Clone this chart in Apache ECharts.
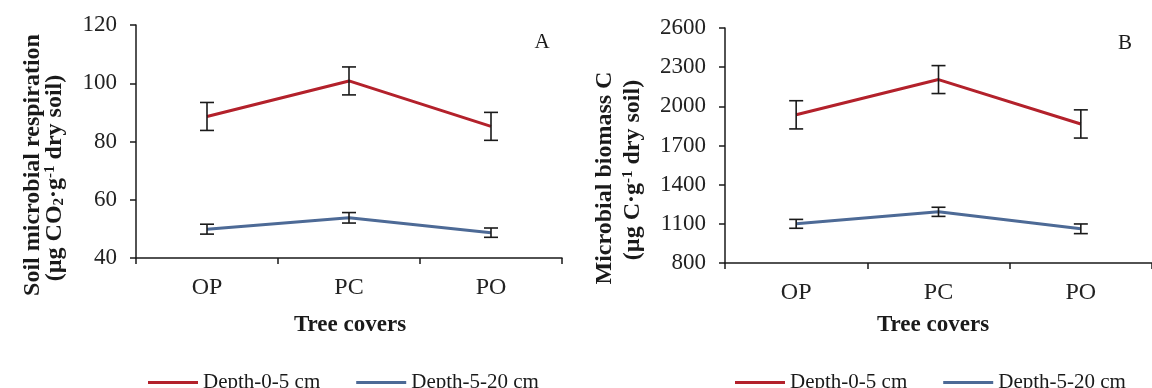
<!DOCTYPE html>
<html>
<head>
<meta charset="utf-8">
<script src="https://cdn.jsdelivr.net/npm/echarts@6/dist/echarts.min.js"></script>
<style>
html, body { margin: 0; padding: 0; background: #fff; }
#main { width: 1152px; height: 388px; }
</style>
</head>
<body>
<div id="main"></div>
<script>
// tree covers on the x axis
var categories = ['OP', 'PC', 'PO'];
var seriesNames = ['Depth-0-5 cm', 'Depth-5-20 cm'];

// A: soil microbial respiration (mean, +/- error)
var respShallow = [88.6, 100.8, 85.2];
var respShallowErr = [4.8, 4.8, 4.8];
var respDeep = [49.9, 53.8, 48.7];
var respDeepErr = [1.7, 1.8, 1.6];
var respTicks = [40, 60, 80, 100, 120];

// B: microbial biomass C
var mbcShallow = [1935, 2205, 1865];
var mbcShallowErr = [108, 107, 108];
var mbcDeep = [1100, 1192, 1062];
var mbcDeepErr = [34, 35, 37];
var mbcTicks = [800, 1100, 1400, 1700, 2000, 2300, 2600];

var serif = '"Liberation Serif", "Times New Roman", serif';
var red = '#b3212b';
var blue = '#4d6a96';
var ink = '#1a1a1a';

function errData(vals, errs) {
    return vals.map(function(v, i) {
        return [i, v - errs[i], v + errs[i]];
    });
}

// whiskers with caps
function renderErr(params, api) {
    var lo = api.coord([api.value(0), api.value(1)]);
    var hi = api.coord([api.value(0), api.value(2)]);
    var w = 7;
    var st = { stroke: ink, lineWidth: 1.6 };
    return {
        type: 'group',
        children: [
            { type: 'line', shape: { x1: hi[0], y1: hi[1], x2: lo[0], y2: lo[1] }, style: st },
            { type: 'line', shape: { x1: hi[0] - w, y1: hi[1], x2: hi[0] + w, y2: hi[1] }, style: st },
            { type: 'line', shape: { x1: lo[0] - w, y1: lo[1], x2: lo[0] + w, y2: lo[1] }, style: st }
        ]
    };
}

function xAxisCfg(gi) {
    return {
        type: 'category',
        gridIndex: gi,
        data: categories,
        boundaryGap: true,
        axisLine: { lineStyle: { color: ink, width: 1.5 } },
        axisTick: { show: true, length: 6, inside: false, lineStyle: { color: ink, width: 1.5 } },
        axisLabel: { margin: 18, color: '#222', fontFamily: serif, fontSize: 24 }
    };
}

function yAxisCfg(gi, ticks) {
    return {
        type: 'value',
        gridIndex: gi,
        min: ticks[0],
        max: ticks[ticks.length - 1],
        splitLine: { show: false },
        axisLine: { show: true, lineStyle: { color: ink, width: 1.5 } },
        axisTick: { show: true, length: 6, customValues: ticks, lineStyle: { color: ink, width: 1.5 } },
        axisLabel: {
            margin: 19, color: '#222', fontFamily: serif, fontSize: 23, customValues: ticks,
            formatter: function(v) { return String(v); }
        }
    };
}

function lineSeries(name, xi, vals, color) {
    return {
        name: name,
        type: 'line',
        xAxisIndex: xi,
        yAxisIndex: xi,
        data: vals,
        symbol: 'none',
        lineStyle: { color: color, width: 3 },
        itemStyle: { color: color },
        z: 3
    };
}

function errSeries(xi, vals, errs) {
    return {
        type: 'custom',
        xAxisIndex: xi,
        yAxisIndex: xi,
        data: errData(vals, errs),
        encode: { x: 0, y: [1, 2] },
        renderItem: renderErr,
        z: 4
    };
}

function vText(x, y, text) {
    return {
        type: 'text',
        x: x,
        y: y,
        rotation: Math.PI / 2,
        style: {
            text: text,
            align: 'center',
            verticalAlign: 'middle',
            textAlign: 'center',
            textVerticalAlign: 'middle',
            fill: ink,
            rich: {
                a: { fontFamily: serif, fontWeight: 'bold', fontSize: 24, color: ink },
                s: { fontFamily: serif, fontWeight: 'bold', fontSize: 15, color: ink, verticalAlign: 'bottom', padding: [8, 0, 0, 0] },
                p: { fontFamily: serif, fontWeight: 'bold', fontSize: 15, color: ink, verticalAlign: 'top', padding: [0, 0, 8, 0] }
            }
        }
    };
}

function plainText(x, y, text, bold, size) {
    return {
        type: 'text',
        x: x,
        y: y,
        style: {
            text: text,
            align: 'center',
            verticalAlign: 'middle',
            textAlign: 'center',
            textVerticalAlign: 'middle',
            fill: ink,
            font: (bold ? 'bold ' : '') + size + 'px ' + serif
        }
    };
}

function legendCfg(left) {
    return {
        left: left,
        top: 367,
        data: seriesNames,
        icon: 'rect',
        itemWidth: 50,
        itemHeight: 3,
        itemGap: 36,
        selectedMode: false,
        textStyle: { fontFamily: serif, fontSize: 21, color: ink }
    };
}

var chart = echarts.init(document.getElementById('main'));

chart.setOption({
    animation: false,
    backgroundColor: '#fff',
    grid: [
        { left: 136, top: 25, width: 426, height: 233 },
        { left: 725, top: 28, width: 441, height: 235 }
    ],
    xAxis: [xAxisCfg(0), xAxisCfg(1)],
    yAxis: [yAxisCfg(0, respTicks), yAxisCfg(1, mbcTicks)],
    legend: [legendCfg(143), legendCfg(730)],
    graphic: [
        vText(33, 165, '{a|Soil microbial respiration}'),
        vText(55, 178, '{a|(µg CO}{s|2}{a|·g}{p|-1}{a| dry soil)}'),
        vText(605, 178, '{a|Microbial biomass C}'),
        vText(633, 170, '{a|(µg C·g}{p|-1}{a| dry soil)}'),
        plainText(350, 325, 'Tree covers', true, 23),
        plainText(933, 325, 'Tree covers', true, 23),
        plainText(542, 42, 'A', false, 21),
        plainText(1125, 43, 'B', false, 21)
    ],
    series: [
        lineSeries(seriesNames[0], 0, respShallow, red),
        lineSeries(seriesNames[1], 0, respDeep, blue),
        errSeries(0, respShallow, respShallowErr),
        errSeries(0, respDeep, respDeepErr),
        lineSeries(seriesNames[0], 1, mbcShallow, red),
        lineSeries(seriesNames[1], 1, mbcDeep, blue),
        errSeries(1, mbcShallow, mbcShallowErr),
        errSeries(1, mbcDeep, mbcDeepErr)
    ]
});
</script>
</body>
</html>
